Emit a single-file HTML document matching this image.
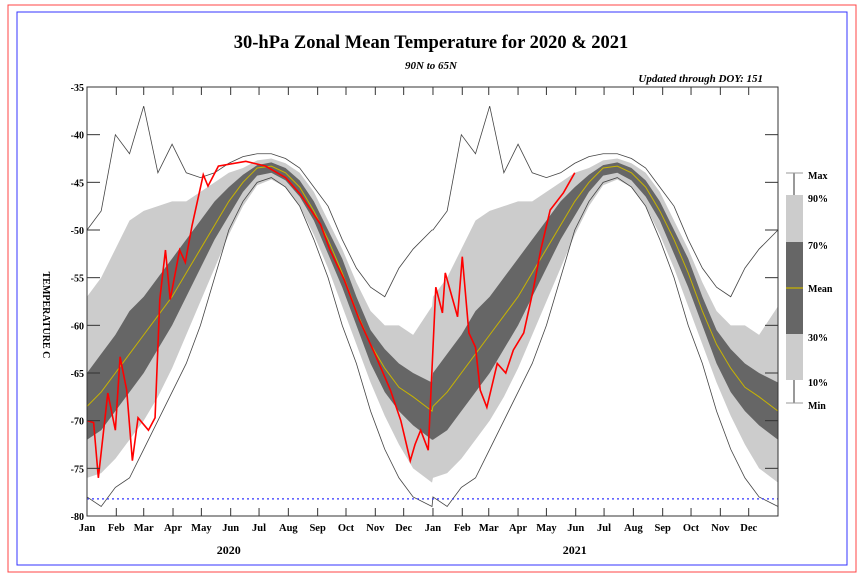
<!DOCTYPE html>
<html><head><meta charset="utf-8"><style>
body{margin:0;background:#fff;}
svg{display:block;font-family:"Liberation Serif",serif;}
</style></head><body>
<svg id="c" width="864" height="576">
<rect x="8" y="5" width="848" height="567" fill="none" stroke="#f44" stroke-width="1"/>
<rect x="17" y="12" width="830" height="553" fill="none" stroke="#33f" stroke-width="1"/>
<text x="431" y="48" text-anchor="middle" font-size="18.5" font-weight="bold">30-hPa Zonal Mean Temperature for 2020 &amp; 2021</text>
<text x="431" y="69" text-anchor="middle" font-size="11" font-weight="bold" font-style="italic">90N to 65N</text>
<text x="763" y="82" text-anchor="end" font-size="11" font-weight="bold" font-style="italic">Updated through DOY: 151</text>
<text transform="translate(43,315) rotate(90)" text-anchor="middle" font-size="10" font-weight="bold">TEMPERATURE C</text>
<g id="plot"></g>
<g id="legend">
<line x1="794" y1="173" x2="794" y2="403" stroke="#999" stroke-width="2"/>
<line x1="786" y1="173" x2="803" y2="173" stroke="#999"/>
<line x1="786" y1="403" x2="803" y2="403" stroke="#999"/>
<rect x="786" y="195" width="17" height="185" fill="#ccc"/>
<rect x="786" y="242" width="17" height="92" fill="#666"/>
<line x1="786" y1="288" x2="803" y2="288" stroke="#c8b400" stroke-width="1.2"/>
<g font-size="10" font-weight="bold">
<text x="808" y="179">Max</text>
<text x="808" y="202">90%</text>
<text x="808" y="249">70%</text>
<text x="808" y="292">Mean</text>
<text x="808" y="341">30%</text>
<text x="808" y="386">10%</text>
<text x="808" y="409">Min</text>
</g></g>
</svg>
<script>
const doy=[0,15,30,45,60,75,90,105,120,135,150,165,180,195,210,225,240,255,270,285,300,315,330,345,365];
const meanT=[-68.5,-67,-65,-63,-61,-59,-57,-54.5,-52,-49.5,-47,-45,-43.5,-43.3,-44,-45.5,-48,-51,-54.5,-58.5,-62,-64.5,-66.5,-67.5,-69];
const p30=[-72,-71,-69,-67,-65,-62.5,-60,-57,-54,-51,-48.5,-46,-44.3,-44,-44.8,-46.5,-49,-52.5,-56,-60,-64,-67,-69,-70.5,-72];
const p70=[-65,-63,-61,-58.5,-57,-55,-53,-51,-49,-47,-45.5,-44.2,-43.2,-42.9,-43.5,-44.8,-47,-50,-53,-57,-60.5,-62.5,-64,-65,-66];
const p10=[-76,-75.5,-74,-72,-70,-67.5,-64.5,-61,-57.5,-54,-50.5,-47.5,-45.3,-44.7,-45.5,-47.5,-50.5,-54,-58,-62,-66,-69.5,-72.5,-75,-76.5];
const p90=[-57,-55,-52,-49,-48,-47.5,-47,-47,-46,-45,-44,-43.5,-42.7,-42.5,-43,-44,-46,-49,-52,-55.5,-58.5,-60,-60,-61,-58];
const maxT=[-50,-48,-40,-42,-37,-44,-41,-44,-44.5,-44,-43,-42.3,-42,-42,-42.5,-43.5,-45.5,-47.5,-51,-54,-56,-57,-54,-52,-50];
const minT=[-78,-79,-77,-76,-73,-70,-67,-64,-60,-55,-50,-47,-45,-44.5,-45.5,-47.5,-51,-55,-60,-64,-69,-73,-76,-78,-79];
const obsDay=[0,7,12,22,30,35,42,48,54,65,72,77,83,88,98,104,111,123,128,139,168,189,210,226,247,257,272,288,305,321,332,337,342,347,353,361,369,376,379,392,397,404,411,416,423,434,443,451,462,472,480,490,504,516];
const obsT=[-70,-70.2,-76,-67.1,-71,-63.3,-66.8,-74.2,-69.7,-71,-69.7,-57.3,-52.1,-57.3,-52.1,-53.4,-49.6,-44.2,-45.4,-43.3,-42.8,-43.3,-44.5,-46.3,-49.4,-52.1,-55.2,-59.4,-63.1,-66.8,-70,-72.1,-74.2,-72.5,-71,-73.1,-56,-58.7,-54.5,-59.1,-52.8,-60.8,-62.3,-66.8,-68.6,-64,-65,-62.6,-60.8,-56.3,-52.1,-47.9,-46.1,-44];
const yTicks=[-35,-40,-45,-50,-55,-60,-65,-70,-75,-80];
const months=["Jan","Feb","Mar","Apr","May","Jun","Jul","Aug","Sep","Oct","Nov","Dec"];
const years=["2020","2021"];
const monthLen2020=[31,29,31,30,31,30,31,31,30,31,30,31];
const monthLen2021=[31,28,31,30,31,30,31,31,30,31,30,31];

const X0=87,X1=778,Y0=87,Y1=516,TOTAL=731;
const xs=d=>X0+(d/TOTAL)*(X1-X0);
const ys=t=>Y0+(-35-t)/45*(Y1-Y0);
const NS="http://www.w3.org/2000/svg";
const plot=document.getElementById('plot');
function mk(tag,attrs,parent){const e=document.createElementNS(NS,tag);for(const k in attrs)e.setAttribute(k,attrs[k]);(parent||plot).appendChild(e);return e;}
function pts(arr){const p=[];[0,366].forEach(off=>{doy.forEach((d,i)=>{const dd=d+off;if(dd<=TOTAL)p.push([xs(dd),ys(arr[i])]);});});return p;}
function band(lo,hi,fill,name){const a=pts(hi),b=pts(lo).reverse();const e=mk('polygon',{points:a.concat(b).map(p=>p.join(',')).join(' '),fill:fill});

}
function line(arr,stroke,w,name){const e=mk('polyline',{points:pts(arr).map(p=>p.join(',')).join(' '),fill:'none',stroke:stroke,'stroke-width':w});

}
band(p10,p90,'#cccccc','band-10-90');
band(p30,p70,'#666666','band-30-70');
line(meanT,'#c8b400',1,'mean-line');
line(maxT,'#444',0.8,'max-line');
line(minT,'#444',0.8,'min-line');
const dot=mk('line',{x1:X0,x2:X1,y1:ys(-78.2),y2:ys(-78.2),stroke:'#33f','stroke-width':1.2,'stroke-dasharray':'2,3'});


const obs=mk('polyline',{points:obsDay.map((d,i)=>xs(d)+','+ys(obsT[i])).join(' '),fill:'none',stroke:'#f00','stroke-width':1.6});


const frame=mk('rect',{x:X0,y:Y0,width:X1-X0,height:Y1-Y0,fill:'none',stroke:'#333','stroke-width':1});


yTicks.forEach(t=>{const y=ys(t);
mk('line',{x1:X0,x2:X0+13,y1:y,y2:y,stroke:'#333'});
mk('line',{x1:X1,x2:X1-13,y1:y,y2:y,stroke:'#333'});
const tx=mk('text',{x:X0-3,y:y+4,'text-anchor':'end','font-size':10,'font-weight':'bold'});tx.textContent=t;

});
let d=0;
[monthLen2020,monthLen2021].forEach((ml,yi)=>{const start=d;ml.forEach((len,mi)=>{const x=xs(d);
mk('line',{x1:x,x2:x,y1:Y0,y2:Y0+8,stroke:'#333'});
mk('line',{x1:x,x2:x,y1:Y1,y2:Y1-8,stroke:'#333'});
const tx=mk('text',{x:x,y:Y1+15,'text-anchor':'middle','font-size':10.5,'font-weight':'bold'});tx.textContent=months[mi];


d+=len;});
const yt=mk('text',{x:xs(start+150),y:Y1+38,'text-anchor':'middle','font-size':12,'font-weight':'bold'});yt.textContent=years[yi];

});
</script>
</body></html>
